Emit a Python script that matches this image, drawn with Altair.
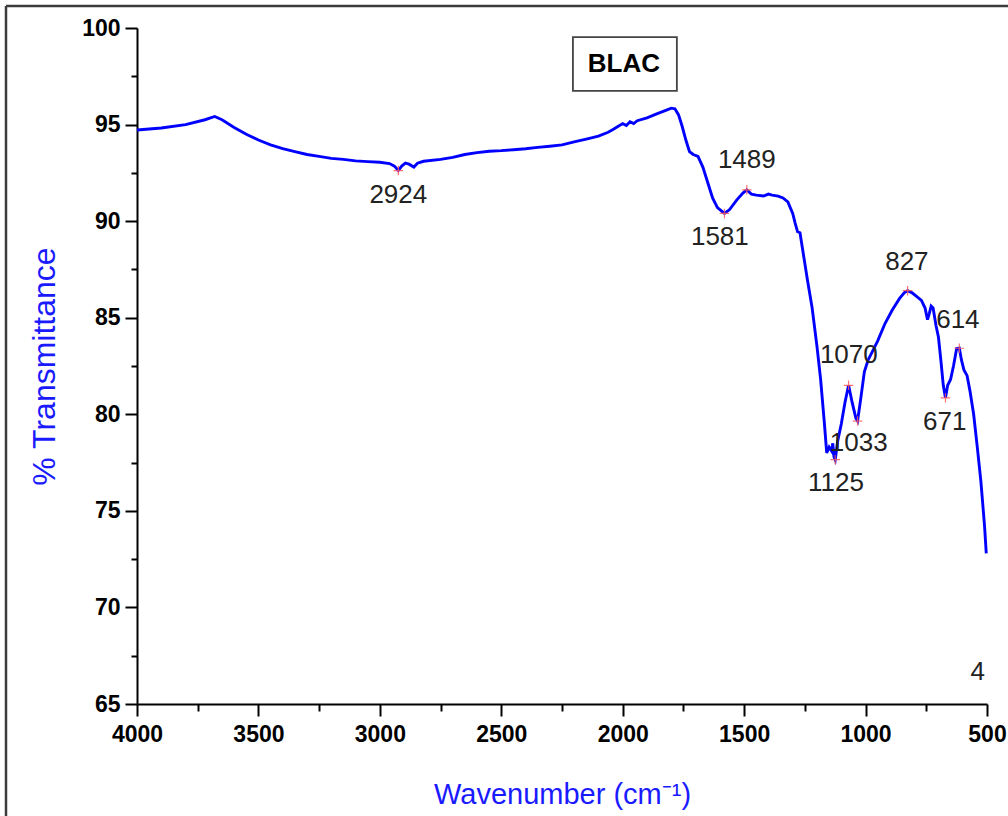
import altair as alt
import pandas as pd

# ---- spectrum ----
wavenumber = [4000, 3900, 3800, 3720, 3680, 3650, 3600, 3550, 3500, 3450, 3400, 3350, 3300, 3250,
              3200, 3150, 3100, 3050, 3000, 2960, 2940, 2924, 2910, 2895, 2880, 2860, 2845, 2820,
              2750, 2700, 2650, 2600, 2550, 2500, 2450, 2400, 2350, 2300, 2250, 2200, 2150, 2100,
              2060, 2040, 2020, 2000, 1985, 1970, 1955, 1940, 1900, 1860, 1820, 1800, 1785, 1770,
              1755, 1740, 1725, 1710, 1690, 1670, 1650, 1630, 1610, 1581, 1560, 1530, 1505, 1489,
              1470, 1450, 1420, 1400, 1385, 1360, 1340, 1320, 1300, 1290, 1280, 1270, 1260, 1240,
              1220, 1200, 1185, 1170, 1160, 1150, 1140, 1135, 1130, 1125, 1115, 1100, 1085, 1070,
              1055, 1040, 1033, 1020, 1005, 990, 970, 950, 920, 890, 860, 840, 827, 810, 790, 770,
              755, 745, 738, 730, 722, 710, 700, 690, 680, 671, 662, 650, 638, 625, 614, 605, 595,
              582, 570, 555, 540, 525, 510, 503]
transmittance = [94.72, 94.82, 95.0, 95.25, 95.42, 95.25, 94.85, 94.5, 94.2, 93.95, 93.75, 93.6,
                 93.45, 93.35, 93.25, 93.2, 93.12, 93.08, 93.05, 92.98, 92.85, 92.62, 92.85, 93.0,
                 92.95, 92.8, 93.0, 93.1, 93.2, 93.3, 93.45, 93.55, 93.62, 93.65, 93.7, 93.75,
                 93.82, 93.88, 93.95, 94.1, 94.25, 94.4, 94.6, 94.75, 94.9, 95.05, 94.95, 95.15,
                 95.05, 95.2, 95.35, 95.55, 95.75, 95.85, 95.82, 95.5, 94.9, 94.2, 93.6, 93.45,
                 93.35, 92.8, 92.0, 91.2, 90.7, 90.4, 90.6, 91.1, 91.45, 91.62, 91.4, 91.35, 91.3,
                 91.4, 91.35, 91.3, 91.2, 91.0, 90.4, 89.9, 89.45, 89.4, 88.6, 87.0, 85.5, 83.5,
                 81.8, 79.6, 78.0, 78.3, 78.1, 78.5, 77.8, 77.65, 78.6, 79.5, 80.6, 81.5, 80.6,
                 79.8, 79.65, 80.8, 82.2, 82.8, 83.3, 83.8, 84.7, 85.4, 86.0, 86.3, 86.4, 86.3,
                 86.1, 85.9, 85.5, 84.9, 85.2, 85.6, 85.5, 84.6, 84.0, 82.8, 81.5, 80.85, 81.5,
                 81.8, 82.5, 83.4, 83.42, 82.8, 82.3, 82.0, 81.2, 80.0, 78.3, 76.5, 74.2, 72.8]

# ---- peak markers ----
peak_x = [2924, 1581, 1489, 1125, 1070, 1033, 827, 671, 614]
peak_y = [92.62, 90.4, 91.62, 77.65, 81.5, 79.65, 86.4, 80.85, 83.42]

# ---- peak labels ----
label_text = ["2924", "1581", "1489", "1125", "1070", "1033", "827", "671", "614", "4"]
label_x = [2924, 1600, 1489, 1122, 1069, 1028, 830, 674, 620, 538]
label_y = [91.35, 89.18, 93.16, 76.44, 83.07, 78.5, 87.88, 79.6, 84.88, 66.65]

title_text = ["BLAC"]
x_ticks = [4000, 3750, 3500, 3250, 3000, 2750, 2500, 2250, 2000, 1750, 1500, 1250, 1000, 750, 500]
y_ticks = [65, 67.5, 70, 72.5, 75, 77.5, 80, 82.5, 85, 87.5, 90, 92.5, 95, 97.5, 100]

FONT = "Liberation Sans"

spec = pd.DataFrame({"w": wavenumber, "t": transmittance, "i": list(range(len(wavenumber)))})
peaks = pd.DataFrame({"w": peak_x, "t": peak_y})
labels = pd.DataFrame({"w": label_x, "t": label_y, "txt": label_text})
title_df = pd.DataFrame({"w": [1995], "t": [98.14], "txt": title_text,
                         "w1": [2205], "w2": [1777], "t1": [99.53], "t2": [96.74]})

xscale = alt.Scale(domain=[500, 4000], reverse=True, nice=False, zero=False)
yscale = alt.Scale(domain=[65, 100], nice=False, zero=False)

xaxis = alt.Axis(
    values=x_ticks, format="d",
    labelExpr="datum.value % 500 === 0 ? datum.label : ''",
    tickSize={"condition": {"test": "datum.value % 500 === 0", "value": 12}, "value": 7},
    labelOverlap=False, labelFlush=False, grid=False,
    labelFont=FONT, labelFontSize=23, labelFontWeight="bold", labelColor="black", labelPadding=7,
    domainColor="black", domainWidth=2, tickColor="black", tickWidth=2,
    title="Wavenumber (cm\u207b\u00b9)", titleFont=FONT, titleFontSize=29, titleFontWeight="normal",
    titleColor="#1a1aff", titlePadding=34,
)
yaxis = alt.Axis(
    values=y_ticks, format="d",
    labelExpr="datum.value % 5 === 0 ? datum.label : ''",
    tickSize={"condition": {"test": "datum.value % 5 === 0", "value": 12}, "value": 6},
    labelOverlap=False, labelFlush=False, grid=False,
    labelFont=FONT, labelFontSize=23, labelFontWeight="bold", labelColor="black", labelPadding=5,
    domainColor="black", domainWidth=2, tickColor="black", tickWidth=2,
    title="% Transmittance", titleFont=FONT, titleFontSize=32, titleFontWeight="normal",
    titleColor="#1a1aff", titlePadding=20,
)

line = alt.Chart(spec).mark_line(color="#0000ff", strokeWidth=2.9).encode(
    x=alt.X("w:Q", scale=xscale, axis=xaxis),
    y=alt.Y("t:Q", scale=yscale, axis=yaxis),
    order="i:Q",
)

marks = alt.Chart(peaks).mark_point(
    shape="M-1,0L1,0M0,-1L0,1", filled=False, color="#ff5a5a", strokeWidth=1.2, size=90, opacity=0.85
).encode(x=alt.X("w:Q", scale=xscale), y=alt.Y("t:Q", scale=yscale))

texts = alt.Chart(labels).mark_text(
    font=FONT, fontSize=26, color="#222222", align="center", baseline="middle"
).encode(x=alt.X("w:Q", scale=xscale), y=alt.Y("t:Q", scale=yscale), text="txt:N")

tbox = alt.Chart(title_df).mark_rect(fill="white", stroke="#444444", strokeWidth=1.8).encode(
    x=alt.X("w1:Q", scale=xscale), x2="w2:Q", y=alt.Y("t1:Q", scale=yscale), y2="t2:Q"
)
ttext = alt.Chart(title_df).mark_text(
    font=FONT, fontSize=26, fontWeight="bold", color="black", align="center", baseline="middle"
).encode(x=alt.X("w:Q", scale=xscale), y=alt.Y("t:Q", scale=yscale), text="txt:N")

frame_top = alt.Chart(title_df).mark_rule(color="#3c3c3c", strokeWidth=2.5).encode(
    x=alt.value(-131), x2=alt.value(871), y=alt.value(-22)
)
frame_left = alt.Chart(title_df).mark_rule(color="#3c3c3c", strokeWidth=2.5).encode(
    x=alt.value(-131), y=alt.value(-22), y2=alt.value(788)
)

chart = alt.layer(frame_top, frame_left, line, marks, tbox, ttext, texts).properties(
    width=850, height=676,
    padding={"left": 137, "top": 28, "right": 21, "bottom": 112},
    autosize=alt.AutoSizeParams(type="none"),
    background="white",
).configure_view(strokeWidth=0)

chart.save("out.html", embed_options={"renderer": "svg", "actions": False})
